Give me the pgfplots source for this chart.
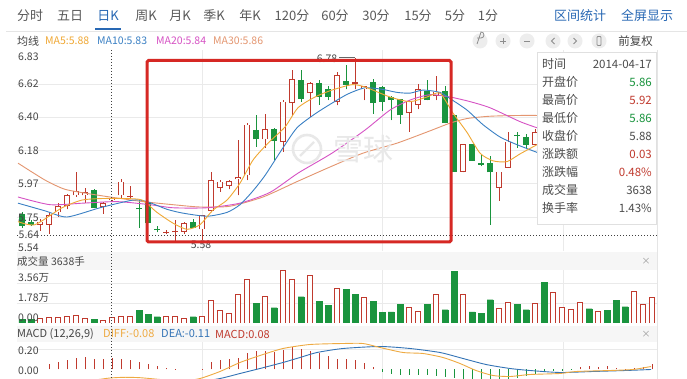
\documentclass[border=0pt]{standalone}
\usepackage{fontspec}
\setmainfont{Noto Sans CJK SC}
\usepackage{pgfplots}
\usepackage{pgfplotstable}
\pgfplotsset{compat=1.18}
\definecolor{cred}{RGB}{192,58,46}
\definecolor{cgreen}{RGB}{26,148,62}
\definecolor{cma5}{RGB}{240,168,52}
\definecolor{cma10}{RGB}{58,128,196}
\definecolor{cma20}{RGB}{214,82,196}
\definecolor{cma30}{RGB}{228,150,112}
\definecolor{cdiff}{RGB}{238,170,66}
\definecolor{cdea}{RGB}{52,116,182}
\definecolor{cblue}{RGB}{40,104,180}
\definecolor{ctext}{RGB}{70,70,70}
\definecolor{cbox}{RGB}{214,40,36}
\definecolor{cgrid}{RGB}{234,234,234}
\definecolor{cband}{RGB}{246,246,246}

% candles: x (pixel position) open high low close
\pgfplotstableread{
x o h l c
40 5.70 5.74 5.66 5.72
49 5.70 5.78 5.64 5.76
58 5.78 5.84 5.75 5.82
67 5.82 5.90 5.80 5.89
76 5.89 6.04 5.88 5.92
85 5.89 5.94 5.84 5.91
103 5.815 5.85 5.77 5.84
112 5.86 5.88 5.85 5.875
121 5.89 6.00 5.87 5.98
130 5.878 5.95 5.87 5.888
166 5.648 5.665 5.64 5.655
175 5.650 5.73 5.585 5.658
184 5.655 5.72 5.64 5.71
202 5.67 5.76 5.60 5.76
211 5.79 6.04 5.78 5.99
220 5.94 5.99 5.915 5.98
229 5.95 5.99 5.93 5.985
238 5.995 6.25 5.89 6.01
247 6.02 6.36 5.99 6.35
265 6.255 6.42 6.20 6.32
283 6.24 6.51 6.175 6.50
292 6.49 6.705 6.41 6.645
310 6.555 6.63 6.40 6.62
337 6.50 6.69 6.475 6.67
355 6.615 6.785 6.58 6.625
364 6.58 6.60 6.51 6.60
409 6.425 6.51 6.305 6.505
418 6.48 6.615 6.45 6.58
436 6.535 6.665 6.51 6.565
463 6.045 6.225 6.04 6.225
499 5.94 6.045 5.855 6.045
508 6.07 6.30 6.07 6.24
535 6.22 6.32 6.22 6.30
}\upc
\pgfplotstableread{
x o h l c
22 5.77 5.78 5.68 5.69
31 5.72 5.73 5.69 5.70
94 5.925 5.93 5.81 5.81
139 5.81 5.87 5.68 5.80
148 5.84 5.85 5.71 5.71
157 5.675 5.69 5.65 5.665
193 5.72 5.74 5.68 5.68
256 6.315 6.41 6.205 6.255
274 6.32 6.33 6.12 6.245
301 6.64 6.705 6.50 6.52
319 6.62 6.64 6.48 6.53
328 6.58 6.60 6.51 6.53
346 6.635 6.74 6.58 6.61
373 6.63 6.645 6.42 6.49
382 6.595 6.60 6.44 6.50
391 6.53 6.535 6.38 6.51
400 6.515 6.52 6.355 6.41
427 6.57 6.64 6.51 6.51
445 6.57 6.60 6.36 6.36
454 6.41 6.41 6.045 6.045
472 6.225 6.225 6.115 6.115
481 6.10 6.16 6.08 6.09
490 6.10 6.145 5.70 6.04
517 6.285 6.305 6.20 6.275
526 6.27 6.29 6.19 6.22
}\dnc
% volume (10k lots)
\pgfplotstableread{
x v
40 0.39
49 0.47
58 0.47
67 0.56
76 0.71
85 0.39
103 0.21
112 0.47
121 0.56
130 0.56
166 0.56
175 0.56
184 0.39
202 0.56
211 1.99
220 1.10
229 0.83
238 2.52
247 3.86
265 2.34
283 4.66
292 3.86
310 4.21
337 3.06
364 2.25
409 1.36
418 1.00
436 2.52
463 2.52
499 1.27
508 1.81
535 1.72
553 2.70
562 1.36
571 1.18
580 1.81
598 1.00
634 2.79
643 1.63
652 2.25
}\volR
\pgfplotstableread{
x v
22 0.33
31 0.33
94 0.33
139 1.10
148 0.74
157 0.56
193 0.56
256 1.72
274 1.36
301 2.34
319 1.90
328 1.54
346 2.97
355 2.52
373 1.90
382 0.92
391 1.00
400 1.63
427 1.63
445 1.18
454 4.60
472 1.00
481 0.83
490 2.07
517 1.63
526 1.18
544 3.59
589 1.27
607 1.10
616 1.99
625 1.45
}\volG
% MACD histogram
\pgfplotstableread{
x m
49 0.057
58 0.073
67 0.090
76 0.113
85 0.123
94 0.107
103 0.107
112 0.113
121 0.107
130 0.090
139 0.073
148 0.057
157 0.033
166 0.010
175 0.007
202 0.004
211 0.073
220 0.090
229 0.100
238 0.113
247 0.167
256 0.180
265 0.180
274 0.173
283 0.190
292 0.223
301 0.207
310 0.180
319 0.167
328 0.133
337 0.107
346 0.107
355 0.090
364 0.067
373 0.023
580 0.023
589 0.033
598 0.023
607 0.033
616 0.013
625 0.005
634 0.013
643 0.023
652 0.057
}\macdR
\pgfplotstableread{
x m
382 -0.027
391 -0.043
400 -0.053
409 -0.060
418 -0.053
427 -0.060
436 -0.067
445 -0.077
454 -0.087
463 -0.095
472 -0.100
481 -0.100
490 -0.100
499 -0.100
508 -0.100
517 -0.090
526 -0.070
535 -0.043
544 -0.027
553 -0.020
562 -0.013
571 -0.010
}\macdG

\pgfplotsset{
  errbar/.style n args={2}{only marks, mark=*, mark size=0pt,
    mark options={draw=none, fill=none}, forget plot,
    error bars/.cd, y dir=plus, y explicit, error mark=none,
    error bar style={line width=#2, draw=#1, line cap=butt}},
  panel/.style={scale only axis, anchor=south west, width=640pt,
    xmin=17, xmax=657, xtick={202,382,563}, xticklabels={}, yticklabels={},
    major tick length=0pt, grid=major, grid style={draw=cgrid, line width=0.6pt},
    axis line style={draw=none}},
}

\begin{document}
\begin{tikzpicture}
\path[use as bounding box, fill=white] (0,0) rectangle (687pt,379pt);

% ---------- main price panel ----------
\begin{axis}[panel, at={(17pt,128pt)}, height=201pt,
  ymin=5.529, ymax=6.8355, ytick={5.750,5.966,6.182,6.398,6.614}]
% wicks
\addplot[errbar={cred}{0.9pt}] table[x=x, y=l, y error plus expr={\thisrow{h}-\thisrow{l}}] {\upc};
\addplot[errbar={cgreen}{0.9pt}] table[x=x, y=l, y error plus expr={\thisrow{h}-\thisrow{l}}] {\dnc};
% bodies
\addplot[errbar={cred}{6.4pt}] table[x=x, y=o, y error plus expr={max(\thisrow{c}-\thisrow{o},0.005)}] {\upc};
\addplot[errbar={white}{4.8pt}] table[x=x, y expr={\thisrow{o}+0.0052}, y error plus expr={max(\thisrow{c}-\thisrow{o}-0.0104,0)}] {\upc};
\addplot[errbar={cgreen}{6.4pt}] table[x=x, y=c, y error plus expr={max(\thisrow{o}-\thisrow{c},0.006)}] {\dnc};
% moving averages
\addplot[no marks, cma30, line width=0.9pt, smooth, tension=0.4] coordinates {
(18,6.10)(45,5.99)(65,5.93)(90,5.90)(110,5.88)(143,5.85)(173,5.83)(200,5.815)(230,5.82)
(263,5.88)(297,5.98)(330,6.075)(363,6.165)(397,6.23)(430,6.31)(450,6.36)(467,6.39)
(490,6.405)(520,6.41)(537,6.41)};
\addplot[no marks, cma20, line width=0.9pt, smooth, tension=0.4] coordinates {
(18,5.88)(50,5.83)(83,5.84)(117,5.85)(150,5.83)(173,5.81)(207,5.81)(240,5.84)(270,5.91)
(298,6.035)(332,6.165)(365,6.315)(390,6.445)(410,6.51)(430,6.545)(450,6.53)(470,6.50)
(490,6.46)(520,6.37)(537,6.33)};
\addplot[no marks, cma10, line width=0.9pt, smooth, tension=0.4] coordinates {
(18,5.84)(45,5.79)(67,5.75)(100,5.81)(133,5.86)(147,5.85)(167,5.80)(183,5.775)(207,5.755)
(227,5.78)(240,5.83)(253,5.92)(265,6.02)(282,6.19)(297,6.33)(315,6.42)(332,6.49)(348,6.55)
(365,6.59)(382,6.58)(397,6.56)(410,6.555)(423,6.575)(440,6.56)(450,6.52)(467,6.445)
(483,6.35)(500,6.27)(517,6.22)(537,6.17)};
\addplot[no marks, cma5, line width=0.9pt, smooth, tension=0.4] coordinates {
(18,5.72)(35,5.70)(62,5.81)(82,5.86)(102,5.87)(125,5.87)(142,5.86)(157,5.78)(173,5.71)
(187,5.67)(200,5.70)(213,5.795)(227,5.86)(240,5.97)(253,6.12)(268,6.23)(285,6.335)
(298,6.46)(315,6.53)(332,6.575)(352,6.61)(365,6.595)(390,6.53)(410,6.50)(427,6.53)
(440,6.555)(453,6.425)(467,6.30)(480,6.165)(493,6.115)(507,6.11)(520,6.16)(537,6.22)};
\end{axis}

% ---------- volume panel ----------
\begin{axis}[panel, at={(17pt,56pt)}, height=53pt, ymin=0, ymax=4.717, ytick={1.78,3.56}]
\addplot[ybar, bar width=6pt, bar shift=0pt, fill=cgreen, draw=cgreen, line width=0.4pt] table[x=x, y=v] {\volG};
\addplot[ybar, bar width=5.2pt, bar shift=0pt, fill=white, draw=cred, line width=0.8pt] table[x=x, y=v] {\volR};
\end{axis}

% ---------- MACD panel ----------
\begin{axis}[panel, at={(17pt,0pt)}, height=37pt, ymin=-0.095, ymax=0.275, ytick={0.2}]
\addplot[ycomb, cred, line width=0.9pt, mark=none] table[x=x, y=m] {\macdR};
\addplot[ycomb, cgreen, line width=0.9pt, mark=none] table[x=x, y=m] {\macdG};
\addplot[no marks, cdea, line width=0.9pt, smooth, tension=0.4] coordinates {
(18,-0.20)(110,-0.11)(200,-0.11)(220,-0.09)(240,-0.04)(260,0.01)(283,0.07)(300,0.12)
(317,0.17)(343,0.21)(380,0.23)(410,0.21)(440,0.17)(463,0.11)(486,0.05)(510,0.01)
(530,-0.01)(560,-0.03)(593,-0.02)(626,-0.01)(651,0.0)};
\addplot[no marks, cdiff, line width=0.9pt, smooth, tension=0.4] coordinates {
(18,-0.20)(60,-0.15)(95,-0.105)(110,-0.085)(125,-0.078)(140,-0.082)(160,-0.10)(180,-0.12)
(200,-0.09)(220,-0.02)(240,0.07)(260,0.14)(283,0.21)(310,0.25)(343,0.26)(363,0.26)
(380,0.22)(403,0.17)(423,0.16)(443,0.12)(460,0.06)(476,-0.01)(493,-0.06)(510,-0.07)
(530,-0.05)(560,-0.04)(576,-0.02)(610,-0.01)(633,0.0)(651,0.03)};
\end{axis}

% ---------- decorations in pixel coordinates ----------
\begin{scope}[shift={(0,379pt)}, x=1pt, y=-1pt]
% tab bar
\draw[black!10, line width=0.6pt] (6,31) -- (687,31);
\foreach \t/\xx in {分时/30, 五日/70, 周K/146, 月K/180, 季K/214, 年K/250, 120分/292, 60分/335, 30分/376, 15分/418, 5分/455, 1分/488}
  \node[text=black!65, font=\fontsize{13}{15}\selectfont, inner sep=0pt] at (\xx,16) {\t};
\node[text=cblue, font=\fontsize{13}{15}\selectfont, inner sep=0pt] at (108,16) {日K};
\draw[cblue, line width=2pt] (95,29.5) -- (121,29.5);
\node[text=cblue, font=\fontsize{13}{15}\selectfont, inner sep=0pt] at (580,16) {区间统计};
\node[text=cblue, font=\fontsize{13}{15}\selectfont, inner sep=0pt] at (647,16) {全屏显示};
% MA header
\node[anchor=west, text=ctext, font=\fontsize{11}{13}\selectfont, inner sep=0pt] at (17,41) {均线};
\node[anchor=west, text=cma5, font=\fontsize{10.5}{12}\selectfont, inner sep=0pt] at (45,41) {MA5:5.88};
\node[anchor=west, text=cma10, font=\fontsize{10.5}{12}\selectfont, inner sep=0pt] at (97,41) {MA10:5.83};
\node[anchor=west, text=cma20, font=\fontsize{10.5}{12}\selectfont, inner sep=0pt] at (156,41) {MA20:5.84};
\node[anchor=west, text=cma30, font=\fontsize{10.5}{12}\selectfont, inner sep=0pt] at (213,41) {MA30:5.86};
% toolbar icons
\foreach \xx in {480,503,527,553,575,599}
  \fill[black!7] (\xx,41) circle (7.5);
\draw[black!45, line width=0.8pt] (477,38) -- (481,38) arc (90:-90:3) -- (477,44);
\draw[black!45, line width=0.8pt] (500,41) -- (506,41) (503,38) -- (503,44);
\draw[black!45, line width=0.8pt] (524,41) -- (530,41);
\draw[black!45, line width=0.8pt] (554.5,38) -- (551.5,41) -- (554.5,44);
\draw[black!45, line width=0.8pt] (573.5,38) -- (576.5,41) -- (573.5,44);
\draw[black!45, line width=0.8pt, rounded corners=0.8pt] (597,36.5) rectangle (601,45.5);
\node[anchor=east, text=ctext, font=\fontsize{11.5}{13}\selectfont, inner sep=0pt] at (653,41) {前复权};

% price labels
\foreach \v/\yy in {6.83/57, 6.62/84, 6.40/117, 6.18/151, 5.97/184, 5.75/218, 5.54/248}
  \node[anchor=west, text=ctext, font=\fontsize{10.5}{12}\selectfont, inner sep=0pt] at (18,\yy) {\v};
% watermark
\draw[black!9, line width=2.6pt] (307,149) circle (14);
\draw[black!9, line width=2.2pt] (300,156) -- (314,142);
\node[text=black!9, font=\fontsize{30}{30}\selectfont, inner sep=0pt] at (363,149) {雪球};
% crosshair
\draw[black!75, line width=0.7pt, dash pattern=on 1pt off 2pt] (17,235) -- (657,235);
\node[anchor=west, text=ctext, fill=white, fill opacity=0.8, text opacity=1, font=\fontsize{10.5}{12}\selectfont, inner sep=0.5pt] at (18,235) {5.64};
% extreme labels
\draw[black!60, line width=0.6pt] (339,57) -- (355,57);
\node[text=ctext, font=\fontsize{10.5}{12}\selectfont, inner sep=0pt] at (327,59) {6.78};
\node[text=ctext, font=\fontsize{10.5}{12}\selectfont, inner sep=0pt] at (201,245) {5.58};
% red annotation box
\draw[cbox, line width=3pt, rounded corners=1.5pt] (147,60.5) rectangle (451,242);
% info panel
\filldraw[fill=white, draw=black!12, line width=0.6pt] (537,52) rectangle (656,224);
\foreach \lab/\yy in {时间/64, 开盘价/82, 最高价/100, 最低价/118, 收盘价/136, 涨跌额/154, 涨跌幅/172, 成交量/190, 换手率/208}
  \node[anchor=west, text=black!70, font=\fontsize{12}{14}\selectfont, inner sep=0pt] at (542,\yy) {\lab};
\node[anchor=east, text=black!70, font=\fontsize{11.5}{13}\selectfont, inner sep=0pt] at (652,64) {2014-04-17};
\node[anchor=east, text=cgreen, font=\fontsize{11.5}{13}\selectfont, inner sep=0pt] at (652,82) {5.86};
\node[anchor=east, text=cred, font=\fontsize{11.5}{13}\selectfont, inner sep=0pt] at (652,100) {5.92};
\node[anchor=east, text=cgreen, font=\fontsize{11.5}{13}\selectfont, inner sep=0pt] at (652,118) {5.86};
\node[anchor=east, text=black!70, font=\fontsize{11.5}{13}\selectfont, inner sep=0pt] at (652,136) {5.88};
\node[anchor=east, text=cred, font=\fontsize{11.5}{13}\selectfont, inner sep=0pt] at (652,154) {0.03};
\node[anchor=east, text=cred, font=\fontsize{11.5}{13}\selectfont, inner sep=0pt] at (652,172) {0.48\%};
\node[anchor=east, text=black!70, font=\fontsize{11.5}{13}\selectfont, inner sep=0pt] at (652,190) {3638};
\node[anchor=east, text=black!70, font=\fontsize{11.5}{13}\selectfont, inner sep=0pt] at (652,208) {1.43\%};

% volume header
\fill[cband] (17,252) rectangle (657,270);
\node[anchor=west, text=ctext, font=\fontsize{10.5}{12}\selectfont, inner sep=0pt] at (17,262) {成交量 3638手};
\node[text=black!40, font=\fontsize{9}{9}\selectfont, inner sep=0pt] at (646,261) {×};
\foreach \v/\yy in {3.56万/278, 1.78万/298, 0.00/318}
  \node[anchor=west, text=ctext, font=\fontsize{10.5}{12}\selectfont, inner sep=0pt] at (18,\yy) {\v};
% MACD header
\fill[cband] (17,326) rectangle (657,342);
\node[anchor=west, text=ctext, font=\fontsize{11}{13}\selectfont, inner sep=0pt] at (17,334) {MACD (12,26,9)};
\node[anchor=west, text=cdiff, font=\fontsize{11}{13}\selectfont, inner sep=0pt] at (103,334) {DIFF:-0.08};
\node[anchor=west, text=cdea, font=\fontsize{11}{13}\selectfont, inner sep=0pt] at (161,334) {DEA:-0.11};
\node[anchor=west, text=cred, font=\fontsize{11}{13}\selectfont, inner sep=0pt] at (215,334) {MACD:0.08};
\node[text=black!40, font=\fontsize{9}{9}\selectfont, inner sep=0pt] at (646,334) {×};
\foreach \v/\yy in {0.20/351, 0.00/371}
  \node[anchor=west, text=ctext, font=\fontsize{10.5}{12}\selectfont, inner sep=0pt] at (18,\yy) {\v};
% vertical crosshair
\draw[black!75, line width=0.7pt, dash pattern=on 1pt off 2pt] (111,50) -- (111,379);
% right border
\draw[black!10, line width=0.6pt] (657,50) -- (657,379);
\end{scope}
\end{tikzpicture}
\end{document}
